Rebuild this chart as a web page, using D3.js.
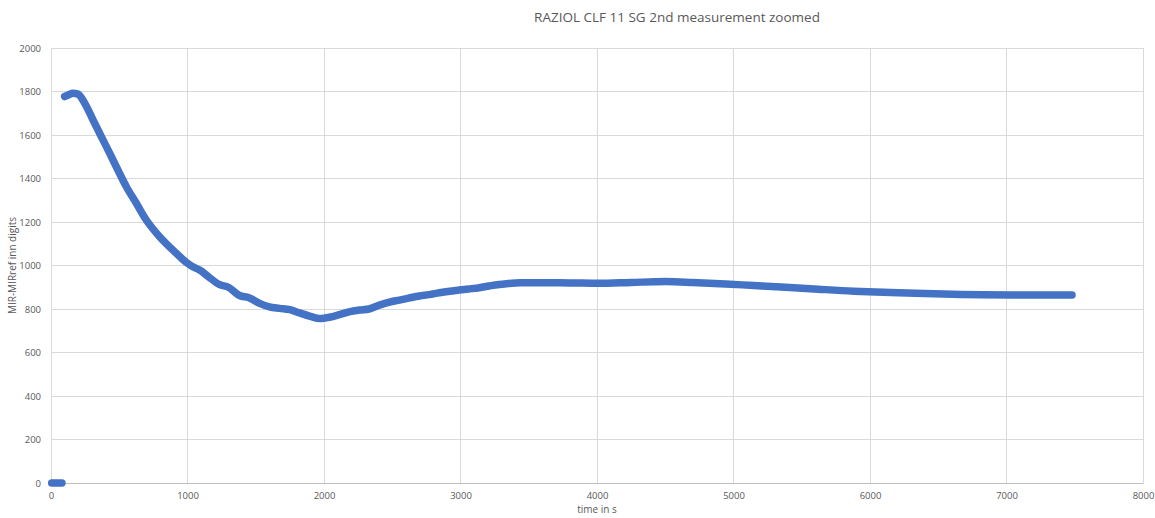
<!DOCTYPE html>
<html>
<head>
<meta charset="utf-8">
<script src="https://cdn.jsdelivr.net/npm/d3@7"></script>
<style>
  html, body { margin: 0; padding: 0; background: #fff; }
  svg { display: block; font-family: "Open Sans", "Liberation Sans", sans-serif; }
</style>
</head>
<body>
<svg id="chart" width="1155" height="518"></svg>
<script>
const title = "RAZIOL CLF 11 SG 2nd measurement zoomed";
const xTitle = "time in s";
const yTitle = "MIR-MIRref inn digits";
const xTicks = [0, 1000, 2000, 3000, 4000, 5000, 6000, 7000, 8000];
const yTicks = [0, 200, 400, 600, 800, 1000, 1200, 1400, 1600, 1800, 2000];

// initial segment (before measurement start)
const startTime = [5, 20, 40, 60, 80];
const startValue = [0, 0, 0, 0, 0];

// main measurement curve
const time = [100, 130, 161, 198, 247, 308, 369, 430, 490, 552, 625, 698, 796, 918, 1000, 1039, 1089,
  1160, 1235, 1300, 1381, 1450, 1528, 1600, 1674, 1750, 1820, 1900, 1967, 2040, 2113, 2190, 2260, 2330, 2406,
  2480, 2552, 2620, 2699, 2770, 2845, 2920, 2991, 3060, 3138, 3210, 3284, 3350, 3431, 3577, 3800, 4016, 4250,
  4504, 4700, 4943, 5150, 5382, 5620, 5882, 6100, 6334, 6600, 6822, 7050, 7297, 7480];
const value = [1777, 1785, 1792, 1788, 1746, 1669, 1592, 1516, 1439, 1362, 1286, 1209, 1132, 1056, 1010, 994, 979,
  945, 912, 900, 862, 852, 826, 810, 803, 797, 782, 766, 756, 762, 774, 788, 795, 800, 818,
  832, 841, 850, 860, 866, 875, 882, 887, 892, 898, 906, 913, 917, 921, 921, 920, 918, 922,
  926, 922, 915, 908, 900, 891, 882, 877, 872, 868, 865, 864, 864, 864];

const svg = d3.select("#chart");
const margin = { left: 51, right: 12, top: 48, bottom: 35 };
const W = 1155, H = 518;

const x = d3.scaleLinear().domain([0, 8000]).range([margin.left, W - margin.right]);
const y = d3.scaleLinear().domain([0, 2000]).range([H - margin.bottom, margin.top]);

// gridlines
svg.append("g").selectAll("line.h").data(yTicks.filter(d => d !== 0)).join("line")
  .attr("x1", x(0)).attr("x2", x(8000))
  .attr("y1", d => y(d)).attr("y2", d => y(d))
  .attr("stroke", "#d9d9d9").attr("stroke-width", 1).attr("shape-rendering", "crispEdges");
svg.append("g").selectAll("line.v").data(xTicks).join("line")
  .attr("x1", d => x(d)).attr("x2", d => x(d))
  .attr("y1", y(0)).attr("y2", y(2000))
  .attr("stroke", "#d9d9d9").attr("stroke-width", 1).attr("shape-rendering", "crispEdges");

// x axis
const xAxis = svg.append("g").attr("transform", `translate(0,${y(0)})`)
  .call(d3.axisBottom(x).tickValues(xTicks).tickSize(0).tickPadding(9).tickFormat(d3.format("d")));
xAxis.select(".domain").attr("stroke", "#bfbfbf");
xAxis.selectAll("text").attr("fill", "#595959").attr("font-size", "9.5px")
  .attr("font-family", "'Open Sans', sans-serif");

// y axis
const yAxis = svg.append("g").attr("transform", `translate(${x(0)},0)`)
  .call(d3.axisLeft(y).tickValues(yTicks).tickSize(0).tickPadding(10).tickFormat(d3.format("d")));
yAxis.select(".domain").remove();
yAxis.selectAll("text").attr("fill", "#595959").attr("font-size", "9.5px")
  .attr("font-family", "'Open Sans', sans-serif");

// data
const line = d3.line().x(d => x(d[0])).y(d => y(d[1])).curve(d3.curveMonotoneX);
const mainPts = time.map((t, i) => [t, value[i]]);
const startPts = startTime.map((t, i) => [t, startValue[i]]);
[startPts, mainPts].forEach(pts => {
  svg.append("path").datum(pts).attr("d", line)
    .attr("fill", "none").attr("stroke", "#4472C4").attr("stroke-width", 7.5)
    .attr("stroke-linecap", "round").attr("stroke-linejoin", "round");
});

// titles
svg.append("text").attr("x", 677).attr("y", 22).attr("text-anchor", "middle")
  .attr("font-size", "13.5px").attr("fill", "#595959").text(title);
svg.append("text").attr("x", (x(0) + x(8000)) / 2).attr("y", 513).attr("text-anchor", "middle")
  .attr("font-size", "10px").attr("fill", "#595959").text(xTitle);
svg.append("text").attr("transform", `translate(16,${(y(0) + y(2000)) / 2}) rotate(-90)`)
  .attr("text-anchor", "middle").attr("font-size", "10px").attr("fill", "#595959").text(yTitle);
</script>
</body>
</html>
